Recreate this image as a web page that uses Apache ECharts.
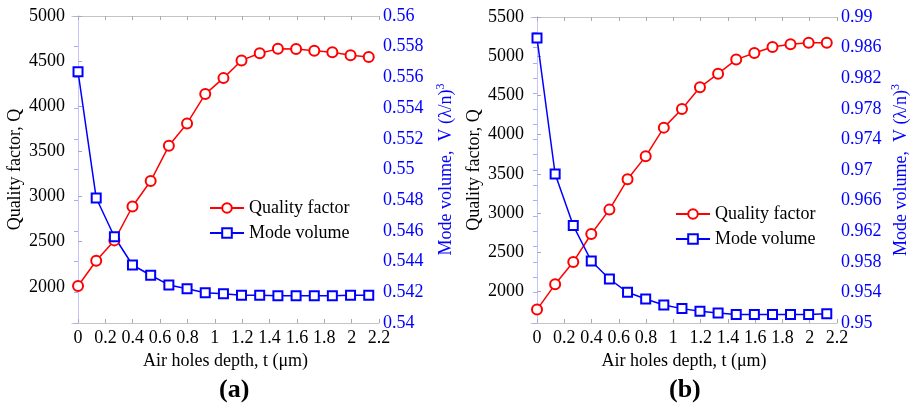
<!DOCTYPE html>
<html lang="en">
	<head>
		<meta charset="UTF-8">
		<title>Q and V vs air holes depth</title>
		<style type="text/css">
			html,body{
				margin:0;
				padding:0;
				background:#fff;
			}
			#main{
				width:914px;
				height:406px;
			}
		</style>
	</head>
	<body>
		<div id="main"></div>
	</body>
	<script type="text/javascript" src="https://cdn.jsdelivr.net/npm/echarts@6/dist/echarts.min.js"></script>
	<script type="text/javascript">
		// air holes depth t (um), same points for both panels
		var depth = [0, 0.133, 0.266, 0.398, 0.531, 0.664, 0.797, 0.930, 1.063, 1.195, 1.328, 1.461, 1.594, 1.727, 1.859, 1.992, 2.125];

		// panel (a)
		var q_a = [2010, 2290, 2515, 2890, 3172, 3562, 3810, 4135, 4312, 4508, 4588, 4636, 4635, 4614, 4598, 4566, 4546];
		var v_a = [0.55637, 0.54814, 0.54562, 0.54378, 0.54311, 0.54248, 0.54223, 0.54197, 0.54191, 0.54180, 0.54180, 0.54178, 0.54178, 0.54178, 0.54178, 0.54180, 0.54180];

		// panel (b)
		var q_b = [1771, 2093, 2378, 2734, 3045, 3431, 3724, 4090, 4328, 4604, 4778, 4957, 5041, 5118, 5152, 5173, 5173];
		var v_b = [0.98725, 0.96948, 0.96273, 0.95810, 0.95575, 0.95401, 0.95314, 0.95235, 0.95188, 0.95153, 0.95131, 0.95110, 0.95110, 0.95110, 0.95110, 0.95110, 0.95120];

		// tick labels
		var x_ticks = [0, 0.2, 0.4, 0.6, 0.8, 1, 1.2, 1.4, 1.6, 1.8, 2, 2.2];
		var q_ticks_a = [2000, 2500, 3000, 3500, 4000, 4500, 5000];
		var q_ticks_b = [2000, 2500, 3000, 3500, 4000, 4500, 5000, 5500];
		var v_labels_b = [0.95, 0.954, 0.958, 0.962, 0.966, 0.97, 0.974, 0.978, 0.982, 0.986, 0.99];
		var v_ticks_b = [];
		for (var i = 0; i <= 20; i++) {
			v_ticks_b.push(0.95 + i * 0.002);
		}

		var font = 'Liberation Serif';
		var grey = '#c4c4c4';
		var lightblue = '#c4c4ff';

		function pairs(xs, ys){
			return xs.map(function(x, i){ return [x, ys[i]]; });
		}
		function fmt3(v){
			return String(parseFloat((+v).toFixed(3)));
		}
		// rich text so the serif font is really used on tick labels
		function label(color, margin, custom){
			var l = {
				fontFamily: font, fontSize: 18, color: color, margin: margin,
				formatter: function(v){ return '{t|' + fmt3(v) + '}'; },
				rich: {t: {fontFamily: font, fontSize: 18, color: color}}
			};
			if (custom) l.customValues = custom;
			return l;
		}

		function xAxes(gi){
			return [{
				type: 'value', gridIndex: gi, position: 'bottom',
				min: -0.044, max: 2.2,
				name: 'Air holes depth, t (\u03bcm)',
				nameLocation: 'middle', nameGap: 28,
				nameTextStyle: {fontFamily: font, fontSize: 18, color: '#000'},
				axisLine: {lineStyle: {color: grey, width: 1}},
				axisTick: {inside: true, length: 4, lineStyle: {color: '#aaa'}, customValues: x_ticks},
				axisLabel: label('#000', 6, x_ticks),
				splitLine: {show: false}
			}, {
				type: 'value', gridIndex: gi, position: 'top',
				min: -0.044, max: 2.2,
				axisLine: {lineStyle: {color: grey, width: 1}},
				axisTick: {inside: true, length: 4, lineStyle: {color: '#aaa'}, customValues: x_ticks},
				axisLabel: {show: false},
				splitLine: {show: false}
			}];
		}

		function qAxis(gi, max, ticks){
			return {
				type: 'value', gridIndex: gi, position: 'left',
				min: 1600, max: max,
				name: 'Quality factor, Q',
				nameLocation: 'middle', nameGap: 48, nameRotate: 90,
				nameTextStyle: {fontFamily: font, fontSize: 18, color: '#000'},
				axisLine: {show: true, lineStyle: {color: grey, width: 1}},
				axisTick: {show: true, inside: true, length: 4, lineStyle: {color: '#aaa'}, customValues: ticks},
				axisLabel: label('#000', 7, ticks),
				splitLine: {show: false}
			};
		}

		function vAxis(gi, min, max, gap, ticks, labels){
			var ax = {
				type: 'value', gridIndex: gi, position: 'right',
				min: min, max: max, interval: 0.002,
				name: '{a|Mode volume,  V (\u03bb/n)}{s|3}',
				nameLocation: 'middle', nameGap: gap, nameRotate: 90,
				nameTextStyle: {
					fontFamily: font, fontSize: 18, color: '#0000ff',
					rich: {
						a: {fontFamily: font, fontSize: 18, color: '#0000ff', lineHeight: 22},
						s: {fontFamily: font, fontSize: 12, color: '#0000ff', verticalAlign: 'top', lineHeight: 22}
					}
				},
				axisLine: {show: true, lineStyle: {color: lightblue, width: 1}},
				axisTick: {show: true, inside: true, length: 4, lineStyle: {color: '#aaaaff'}},
				axisLabel: label('#0000ff', 4, labels),
				splitLine: {show: false}
			};
			if (ticks) ax.axisTick.customValues = ticks;
			return ax;
		}

		function qSeries(xi, yi, data){
			return {
				name: 'Quality factor', type: 'line',
				xAxisIndex: xi, yAxisIndex: yi,
				data: pairs(depth, data),
				symbol: 'emptyCircle', symbolSize: 10,
				lineStyle: {color: '#ff0000', width: 1.5},
				itemStyle: {color: '#ff0000', borderColor: '#ff0000', borderWidth: 1.5}
			};
		}
		function vSeries(xi, yi, data){
			return {
				name: 'Mode volume', type: 'line',
				xAxisIndex: xi, yAxisIndex: yi,
				data: pairs(depth, data),
				symbol: 'emptyRect', symbolSize: 9,
				lineStyle: {color: '#0000ff', width: 1.5},
				itemStyle: {color: '#0000ff', borderColor: '#0000ff', borderWidth: 1.5}
			};
		}

		function legend(left, top){
			return {
				orient: 'vertical', left: left, top: top,
				itemWidth: 34, itemHeight: 12, itemGap: 7,
				textStyle: {fontFamily: font, fontSize: 18, color: '#000'},
				data: ['Quality factor', 'Mode volume']
			};
		}

		var my_chart = echarts.init(document.getElementById('main'), null, {renderer: 'canvas'});
		var option = {
			animation: false,
			backgroundColor: '#fff',
			textStyle: {fontFamily: font},
			grid: [
				{left: 72, right: 535, top: 16, bottom: 83},
				{left: 531, right: 77, top: 17, bottom: 83}
			],
			xAxis: xAxes(0).concat(xAxes(1)),
			yAxis: [
				qAxis(0, 5000, q_ticks_a),
				vAxis(0, 0.54, 0.56, 56),
				qAxis(1, 5500, q_ticks_b),
				vAxis(1, 0.95, 0.99, 53, v_ticks_b, v_labels_b)
			],
			legend: [legend(204, 194), legend(670, 200)],
			graphic: [
				{type: 'text', left: 219, top: 377, style: {text: '(a)', font: 'bold 26px ' + font, fill: '#000'}},
				{type: 'text', left: 669, top: 377, style: {text: '(b)', font: 'bold 26px ' + font, fill: '#000'}}
			],
			series: [
				qSeries(0, 0, q_a),
				vSeries(0, 1, v_a),
				qSeries(2, 2, q_b),
				vSeries(2, 3, v_b)
			]
		};
		my_chart.setOption(option);
	</script>
</html>
